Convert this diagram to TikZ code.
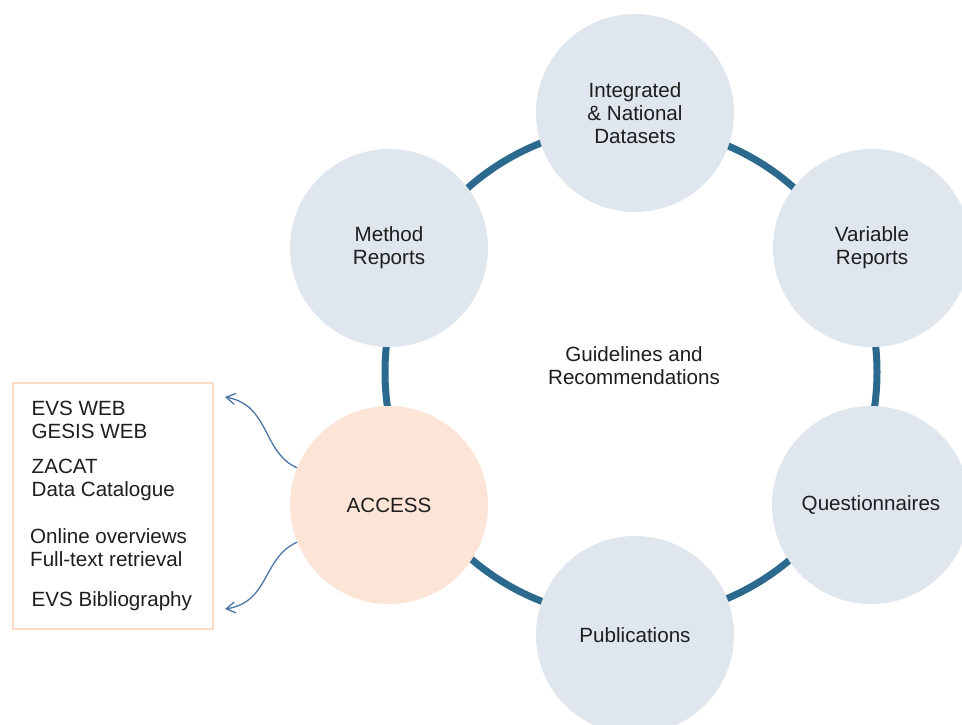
\documentclass[tikz,border=0pt]{standalone}
\usepackage{fontspec}
\setmainfont{Liberation Sans}
\usetikzlibrary{arrows.meta}
\definecolor{bubblefill}{HTML}{DFE6EE}
\definecolor{accessfill}{HTML}{FCE4D6}
\definecolor{ringcol}{HTML}{2B6A8E}
\definecolor{arrowblue}{HTML}{4A76A8}
\definecolor{boxline}{HTML}{FADBC6}
\definecolor{txt}{HTML}{1E1E1E}
\begin{document}
\begin{tikzpicture}[x=1pt,y=-1pt,
  lbl/.style={font=\fontsize{20.6}{23}\selectfont, text=txt},
  bubble/.style={circle, fill=bubblefill, minimum size=198pt, inner sep=0pt, align=center, lbl},
  accessbubble/.style={bubble, fill=accessfill},
  ringline/.style={draw=ringcol, line width=7pt},
  linkarrow/.style={draw=arrowblue, line width=1.3pt, -{Straight Barb[length=9pt,width=11pt]}},
  boxtext/.style={lbl, inner sep=0pt, anchor=base west},
  listbox/.style={draw=boxline, line width=2pt, minimum width=200pt, minimum height=246pt, inner sep=0pt}
]
\useasboundingbox (0,0) rectangle (962,724);
\clip (0,0) rectangle (962,724);
\fill[white] (0,0) rectangle (962,724);

% ring behind the circles
\coordinate (ringc) at (631,372);
\draw[ringline] (ringc) circle[radius=246pt];

% circles
\node[bubble] (data) at (635,113) {Integrated\\\& National\\Datasets};
\node[bubble] (method) at (389,248) {Method\\Reports};
\node[bubble] (variable) at (872,248) {Variable\\Reports};
\node[accessbubble] (access) at (389,505) {ACCESS};
\node[bubble] (quest) at (871,505) {Questionnaires};
\node[bubble] (pub) at (635,635) {Publications};

% centre text
\node[lbl, align=center] (guide) at (634,366) {Guidelines and\\Recommendations};

% list box
\node[listbox] (box) at (113,506) {};
\node[boxtext] (evs) at (31.5,415.5) {EVS WEB};
\node[boxtext] (gesis) at (31.5,438.5) {GESIS WEB};
\node[boxtext] (zacat) at (31.5,473) {ZACAT};
\node[boxtext] (catalogue) at (31.5,496) {Data Catalogue};
\node[boxtext] (online) at (30,543) {Online overviews};
\node[boxtext] (fulltext) at (30,566) {Full-text retrieval};
\node[boxtext] (biblio) at (31.5,606) {EVS Bibliography};

% arrows from ACCESS
\coordinate (tipup) at (225,397);
\coordinate (tipdown) at (225,609);
\draw[linkarrow] (access.158) .. controls (262,452) and (270,405) .. (tipup);
\draw[linkarrow] (access.202) .. controls (262,558) and (270,602) .. (tipdown);
\end{tikzpicture}
\end{document}
